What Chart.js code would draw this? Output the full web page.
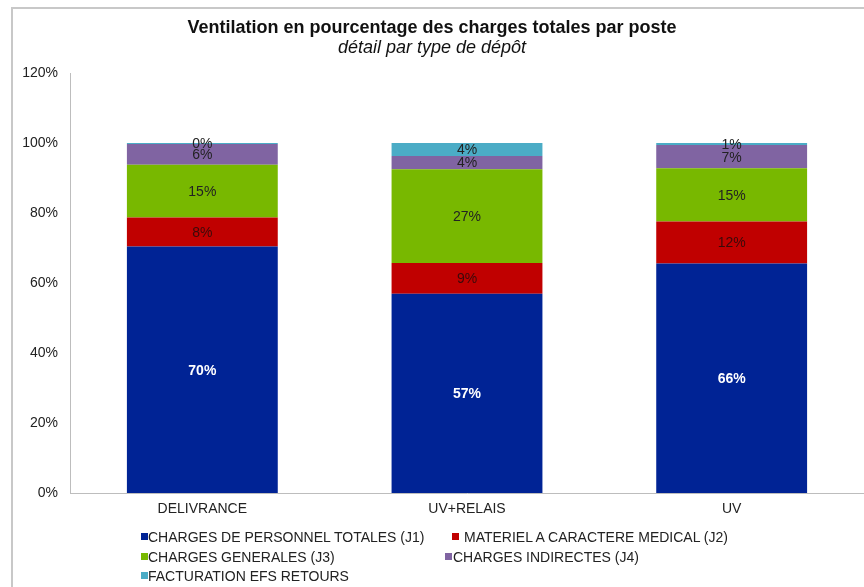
<!DOCTYPE html>
<html>
<head>
<meta charset="utf-8">
<script src="https://cdn.jsdelivr.net/npm/chart.js@4"></script>
<style>
  html, body { margin: 0; padding: 0; background: #fff; }
  #wrap { position: relative; width: 864px; height: 587px; overflow: hidden; }
  #frame { position: absolute; left: 11px; top: 7px; width: 900px; height: 700px;
           border-left: 2px solid #c8c8c8; border-top: 2px solid #c8c8c8; }
  #chart { position: absolute; left: 0; top: 0; }
  #legend { position: absolute; left: 0; top: 0; width: 864px; height: 587px;
            font-family: "Liberation Sans", Arial, sans-serif; font-size: 14px; color: #222; }
  .lbl { position: absolute; white-space: nowrap; line-height: 16px; }
  .box { position: absolute; width: 7px; height: 7px; }
</style>
</head>
<body>
<div id="wrap">
  <div id="frame"></div>
  <canvas id="chart" width="864" height="587"></canvas>
  <div id="legend"></div>
</div>
<script>
var categories = ['DELIVRANCE', 'UV+RELAIS', 'UV'];
var seriesNames = [
    'CHARGES DE PERSONNEL TOTALES (J1)',
    'MATERIEL A CARACTERE MEDICAL (J2)',
    'CHARGES GENERALES (J3)',
    'CHARGES INDIRECTES (J4)',
    'FACTURATION EFS RETOURS'
];
var personnel = [70.4, 56.9, 65.6];
var materiel = [8.3, 8.8, 12.0];
var generales = [15.1, 26.8, 15.2];
var indirectes = [5.9, 3.8, 6.6];
var facturation = [0.3, 3.7, 0.6];
var yTicks = [0, 20, 40, 60, 80, 100, 120];

var colors = ['#002395', '#c00000', '#78b800', '#8064a2', '#4bacc6'];
var values = [personnel, materiel, generales, indirectes, facturation];
var FONT = '"Liberation Sans", Arial, sans-serif';

var valueLabels = {
    id: 'valueLabels',
    afterDatasetsDraw: function(chart) {
        var ctx = chart.ctx;
        ctx.save();
        ctx.textAlign = 'center';
        ctx.textBaseline = 'middle';
        chart.data.datasets.forEach(function(ds, i) {
            var meta = chart.getDatasetMeta(i);
            meta.data.forEach(function(bar, j) {
                var v = ds.data[j];
                var y = (bar.y + bar.base) / 2;
                if (i === 0) {
                    ctx.font = 'bold 14px ' + FONT;
                    ctx.fillStyle = '#ffffff';
                } else {
                    ctx.font = '14px ' + FONT;
                    ctx.fillStyle = i === 1 ? '#3a0a0a' : '#222222';
                }
                ctx.fillText(Math.round(v) + '%', bar.x, y + 1);
            });
        });
        ctx.restore();
    }
};

var datasets = values.map(function(arr, i) {
    return {
        label: seriesNames[i],
        data: arr,
        backgroundColor: colors[i],
        borderWidth: 0,
        categoryPercentage: 1.0,
        barPercentage: 0.57
    };
});

var ctx = document.getElementById('chart').getContext('2d');
var chart = new Chart(ctx, {
    type: 'bar',
    data: { labels: categories, datasets: datasets },
    options: {
        responsive: false,
        animation: false,
        layout: { padding: { left: 0, right: 0, top: 0, bottom: 0 } },
        plugins: {
            legend: { display: false },
            tooltip: { enabled: false },
            title: {
                display: true,
                text: 'Ventilation en pourcentage des charges totales par poste',
                color: '#111',
                font: { family: FONT, size: 18, weight: 'bold', lineHeight: 1.0 },
                padding: { top: 19, bottom: 0 }
            },
            subtitle: {
                display: true,
                text: 'détail par type de dépôt',
                color: '#111',
                font: { family: FONT, size: 18, style: 'italic', lineHeight: 1.0 },
                padding: { top: 2, bottom: 16 }
            }
        },
        scales: {
            x: {
                stacked: true,
                grid: { display: false, drawTicks: false },
                border: { color: '#bdbdbd', width: 1 },
                ticks: {
                    color: '#222',
                    padding: 8,
                    font: { family: FONT, size: 14 }
                },
                afterFit: function(scale) { scale.height = 94; }
            },
            y: {
                stacked: true,
                min: 0,
                max: 120,
                grid: { display: false, drawTicks: false },
                border: { color: '#bdbdbd', width: 1 },
                afterBuildTicks: function(scale) {
                    scale.ticks = yTicks.map(function(v) { return { value: v }; });
                },
                ticks: {
                    color: '#222',
                    padding: 12,
                    font: { family: FONT, size: 14 },
                    callback: function(v) { return v + '%'; }
                },
                afterFit: function(scale) { scale.width = 70; }
            }
        }
    },
    plugins: [valueLabels]
});

// legend laid out like the original (two columns, three rows)
var legendItems = [
    { idx: 0, box: 141, text: 148, y: 537 },
    { idx: 1, box: 452, text: 464, y: 537 },
    { idx: 2, box: 141, text: 148, y: 557 },
    { idx: 3, box: 445, text: 453, y: 557 },
    { idx: 4, box: 141, text: 148, y: 576 }
];
var legend = document.getElementById('legend');
legendItems.forEach(function(it) {
    var box = document.createElement('span');
    box.className = 'box';
    box.style.background = colors[it.idx];
    box.style.left = it.box + 'px';
    box.style.top = (it.y - 4) + 'px';
    legend.appendChild(box);
    var lbl = document.createElement('span');
    lbl.className = 'lbl';
    lbl.textContent = seriesNames[it.idx];
    lbl.style.left = it.text + 'px';
    lbl.style.top = (it.y - 8) + 'px';
    legend.appendChild(lbl);
});
</script>
</body>
</html>
